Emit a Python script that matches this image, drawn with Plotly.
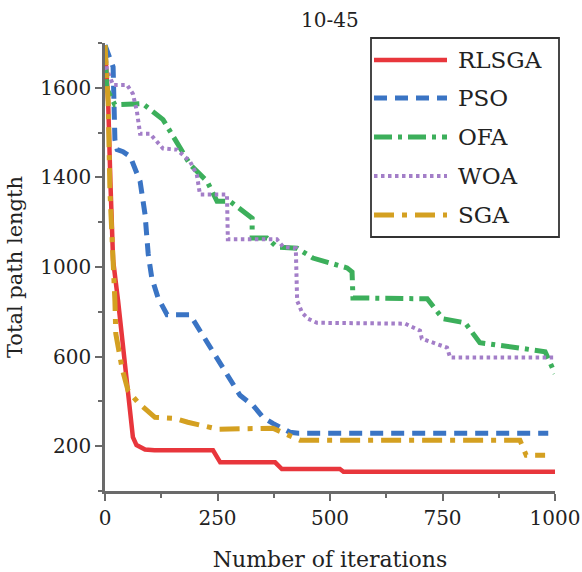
import plotly.graph_objects as go

# ---------------- data ----------------
series_names = ["RLSGA", "PSO", "OFA", "WOA", "SGA"]

rlsga_x = [0, 3, 7, 12, 18, 29, 38, 49, 62, 70, 89, 110, 240, 256, 378, 393, 522, 530, 1000]
rlsga_y = [1980, 1850, 1740, 1380, 1030, 850, 670, 490, 240, 205, 185, 182, 182, 128, 128, 98, 98, 86, 86]

pso_x = [0, 18, 22, 27, 40, 56, 78, 89, 96, 104, 118, 138, 189, 211, 240, 271, 300, 329, 351, 373, 411, 430, 985]
pso_y = [1990, 1893, 1569, 1524, 1515, 1493, 1382, 1235, 1058, 951, 862, 787, 787, 716, 627, 524, 427, 382, 329, 302, 262, 258, 258]

ofa_x = [0, 4, 22, 84, 129, 167, 189, 227, 249, 278, 300, 327, 327, 360, 382, 427, 462, 538, 549, 551, 716, 751, 800, 833, 929, 978, 1000]
ofa_y = [1990, 1796, 1724, 1729, 1658, 1529, 1458, 1382, 1293, 1293, 1258, 1218, 1129, 1129, 1089, 1084, 1040, 996, 978, 862, 858, 769, 751, 662, 636, 622, 524]

woa_x = [0, 4, 18, 49, 62, 71, 78, 100, 129, 160, 189, 204, 211, 271, 273, 382, 396, 424, 427, 438, 451, 471, 667, 700, 704, 760, 767, 1000]
woa_y = [1990, 1884, 1813, 1813, 1773, 1693, 1595, 1595, 1529, 1524, 1471, 1413, 1324, 1324, 1124, 1124, 1089, 1084, 849, 796, 769, 751, 747, 716, 680, 640, 596, 596]

sga_x = [0, 7, 11, 18, 22, 24, 38, 51, 73, 111, 156, 184, 229, 251, 373, 407, 433, 922, 936, 978]
sga_y = [1990, 1738, 1338, 1071, 849, 702, 547, 449, 396, 329, 324, 307, 284, 276, 280, 249, 227, 227, 160, 160]

x_tick_vals = [0, 250, 500, 750, 1000]
x_tick_text = ["0", "250", "500", "750", "1000"]
y_tick_vals = [200, 600, 1000, 1400, 1800]
y_tick_text = ["200", "600", "1000", "1400", "1600"]

chart_title = "10-45"
x_title = "Number of iterations"
y_title = "Total path length"

# ---------------- styles ----------------
colors = ["#E8363C", "#3A74C4", "#3CAF5B", "#A37EC8", "#D4A021"]
dashes = ["solid", "13px,8px", "18px,6px,4px,6px", "3.5px,3.5px", "20px,8px,5px,8px"]
widths = [4.5, 5, 5, 4, 5]
FONT = "DejaVu Serif"
AXIS_COLOR = "#6a6a6a"

xs = [rlsga_x, pso_x, ofa_x, woa_x, sga_x]
ys = [rlsga_y, pso_y, ofa_y, woa_y, sga_y]

fig = go.Figure()
for name, x, y, c, d, w in zip(series_names, xs, ys, colors, dashes, widths):
    fig.add_trace(go.Scatter(x=x, y=y, mode="lines", name=name, showlegend=False,
                             line=dict(color=c, dash=d, width=w)))

W, H = 582, 572
L, R, T, B = 105, 27, 43, 81
pw, ph = W - L - R, H - T - B


def px_x(p):
    return (p - L) / pw


def px_y(p):
    return (H - B - p) / ph


shapes = []
annotations = []
# legend box (drawn by hand so the line samples are as long as in the reference)
shapes.append(dict(type="rect", xref="paper", yref="paper",
                   x0=px_x(371), x1=px_x(559), y0=px_y(237), y1=px_y(38),
                   line=dict(color="#333333", width=1.8), fillcolor="white", layer="above"))
rows = [60, 98, 137, 176, 215]
for name, c, d, w, r in zip(series_names, colors, dashes, widths, rows):
    shapes.append(dict(type="line", xref="paper", yref="paper",
                       x0=px_x(374), x1=px_x(447), y0=px_y(r), y1=px_y(r),
                       line=dict(color=c, dash=d, width=w), layer="above"))
    annotations.append(dict(text=name, xref="paper", yref="paper", x=px_x(456), y=px_y(r),
                            xanchor="left", yanchor="middle", showarrow=False,
                            font=dict(family=FONT, size=23, color="#222222")))

annotations.append(dict(text=chart_title, xref="paper", yref="paper", x=0.5, y=px_y(20),
                        xanchor="center", yanchor="middle", showarrow=False,
                        font=dict(family=FONT, size=20, color="#222222")))

fig.update_layout(
    width=W, height=H,
    margin=dict(l=L, r=R, t=T, b=B, pad=0, autoexpand=False),
    paper_bgcolor="white", plot_bgcolor="white",
    font=dict(family=FONT, size=20, color="#222222"),
    shapes=shapes, annotations=annotations,
    showlegend=False,
)
fig.update_xaxes(
    range=[0, 1000], tickmode="array", tickvals=x_tick_vals, ticktext=x_tick_text,
    automargin=False,
    showgrid=False, zeroline=False, showline=True, linecolor=AXIS_COLOR, linewidth=2.5,
    ticks="outside", ticklen=7, tickwidth=2, tickcolor=AXIS_COLOR,
    minor=dict(ticks="outside", dtick=125, tick0=0, ticklen=4, tickwidth=1.5, tickcolor=AXIS_COLOR),
    tickfont=dict(family=FONT, size=20),
    title=dict(text=x_title, font=dict(family=FONT, size=22), standoff=23),
)
fig.update_yaxes(
    range=[0, 2000], tickmode="array", tickvals=y_tick_vals, ticktext=y_tick_text,
    automargin=False,
    showgrid=False, zeroline=False, showline=True, linecolor=AXIS_COLOR, linewidth=2.5,
    ticks="outside", ticklen=7, tickwidth=2, tickcolor=AXIS_COLOR,
    minor=dict(ticks="outside", dtick=400, tick0=0, ticklen=4, tickwidth=1.5, tickcolor=AXIS_COLOR),
    tickfont=dict(family=FONT, size=20),
    title=dict(text=y_title, font=dict(family=FONT, size=21), standoff=12),
)

fig.write_html("out.html")
